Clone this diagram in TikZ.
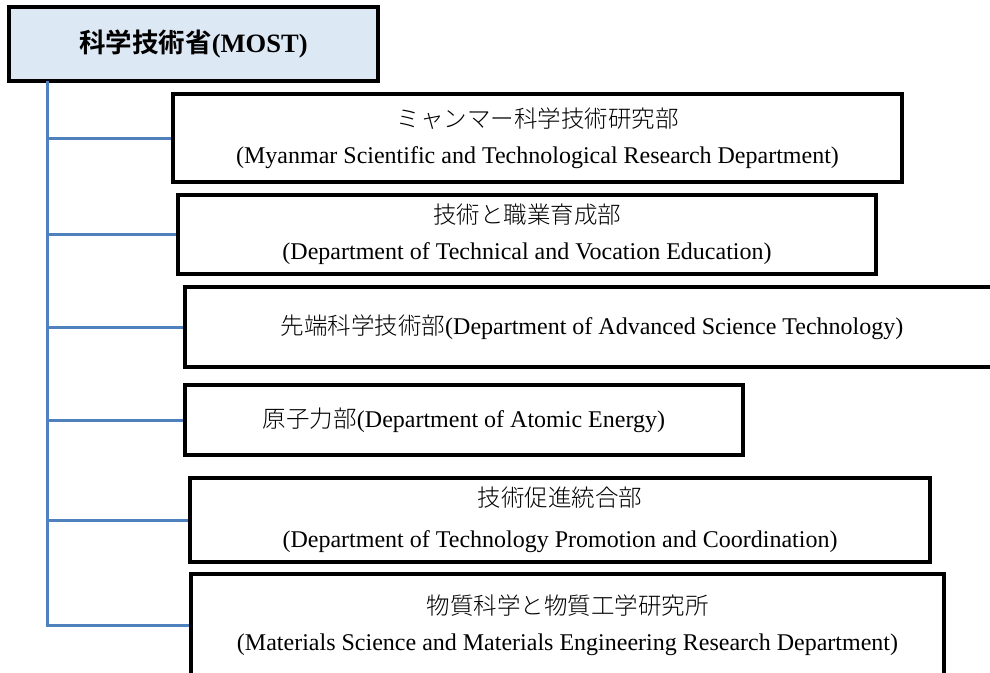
\documentclass[tikz,border=0pt]{standalone}
\usepackage{fontspec}
\setmainfont{Liberation Serif}
\IfFontExistsTF{Noto Sans CJK JP Light}
	{\newfontfamily\jp{Noto Sans CJK JP Light}[BoldFont={Noto Sans CJK JP Bold}]}
	{\newfontfamily\jp{Noto Sans CJK JP}}
\usetikzlibrary{positioning}
\definecolor{mostblue}{RGB}{221, 232, 245}
\definecolor{linkblue}{RGB}{79, 129, 189}
\newcommand{\jpname}[1]{{\fontsize{23.5}{36}\selectfont\jp #1}}
\tikzset{
	dept/.style={rectangle, draw, line width=3.2pt, inner sep=0pt, align=center,
		font=\fontsize{24}{36}\selectfont},
	ministry/.style={dept, fill=mostblue, font=\fontsize{26.5}{30}\selectfont\bfseries},
	branch/.style={draw=linkblue, line width=3pt}
}

\begin{document}
\begin{tikzpicture}[x=1pt, y=-1pt]
		\useasboundingbox (0,0) rectangle (990,672);
		\node[ministry, minimum width=369pt, minimum height=74pt] (most) at (193.5,44) {{\jp 科学技術省}(MOST)};
		\node[dept, minimum width=729pt, minimum height=88pt] (dept1) at (537.5,138) {\jpname{ミャンマー科学技術研究部}\\(Myanmar Scientific and Technological Research Department)};
		\node[dept, minimum width=698pt, minimum height=79pt] (dept2) at (527,234.5) {\jpname{技術と職業育成部}\\(Department of Technical and Vocation Education)};
		\node[dept, minimum width=814pt, minimum height=80pt] (dept3) at (592,327) {\jpname{先端科学技術部}(Department of Advanced Science Technology)};
		\node[dept, minimum width=558pt, minimum height=70pt] (dept4) at (464,420) {\jpname{原子力部}(Department of Atomic Energy)};
		\node[dept, minimum width=740pt, minimum height=84pt] (dept5) at (560,520) {\jpname{技術促進統合部}\\[5pt](Department of Technology Promotion and Coordination)};
		\node[dept, minimum width=753pt, minimum height=102pt] (dept6) at (567.5,625) {\jpname{物質科学と物質工学研究所}\\(Materials Science and Materials Engineering Research Department)};
		\coordinate (trunk) at (47,81);
		\foreach \i in {1,...,6}
			\draw[branch] (trunk) |- (dept\i.west);
		\end{tikzpicture}
\end{document}
